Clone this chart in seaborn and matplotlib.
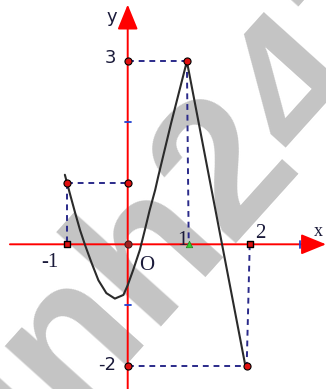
import matplotlib
matplotlib.use("Agg")
import matplotlib.pyplot as plt
import seaborn as sns
import pandas as pd

# Curve (x, y in graph units)
curve_x = [-1.03, -0.95, -0.86, -0.78, -0.70, -0.59, -0.48, -0.35, -0.21, -0.07,
           0.0, 0.09, 0.20, 0.28, 0.36, 0.45, 0.50, 0.71, 0.97, 1.93]
curve_y = [1.14, 0.84, 0.51, 0.23, -0.01, -0.31, -0.59, -0.80, -0.89, -0.83,
           -0.67, -0.42, -0.09, 0.23, 0.56, 0.89, 1.11, 1.98, 3.0, -2.0]

# Marked points
dot_x = [0, 0.97, -1, 0, 0, 1.95]
dot_y = [3, 3, 1, 1, -2, -2]
square_x = [-1, 2]
square_y = [0, 0]

# Dashed guide segments (x0, x1, y0, y1)
guide_x0 = [-1, -1, 0, 0.97, 0, 2]
guide_x1 = [0, -1, 0.97, 1, 1.95, 1.95]
guide_y0 = [1, 1, 3, 3, -2, 0]
guide_y1 = [1, 0, 3, 0, -2, -2]

sns.set_style("white")

fig = plt.figure(figsize=(3.26, 3.89), dpi=100)
ax = fig.add_axes([0, 0, 1, 1])
ax.set_xlim(-2.093, 3.25)
ax.set_ylim(-2.372, 4.005)
ax.axis("off")

# watermark
ax.text(0.68, 0.04, "vinh247", fontsize=140, fontweight="bold", family="Liberation Sans",
        color="#c4c4c4", rotation=48, ha="center", va="center", rotation_mode="anchor", zorder=0)

# axes with arrows
ax.annotate("", xy=(3.25, 0), xytext=(-1.93, 0),
            arrowprops=dict(arrowstyle="-|>,head_length=1.1,head_width=0.45", color="red",
                            lw=1.4, mutation_scale=14, shrinkA=0, shrinkB=0), zorder=2)
ax.annotate("", xy=(0, 3.93), xytext=(0, -2.4),
            arrowprops=dict(arrowstyle="-|>,head_length=1.1,head_width=0.45", color="red",
                            lw=1.4, mutation_scale=14, shrinkA=0, shrinkB=0), zorder=2)

# small blue ticks
ax.plot([-0.05, 0.05], [2, 2], color="#2040d0", lw=1.3, zorder=3)
ax.plot([-0.05, 0.05], [-1, -1], color="#2040d0", lw=1.3, zorder=3)
ax.plot([2.83, 2.83], [-0.06, 0.06], color="#2040d0", lw=1.3, zorder=3)

# dashed guides
for x0, x1, y0, y1 in zip(guide_x0, guide_x1, guide_y0, guide_y1):
    ax.plot([x0, x1], [y0, y1], color="#2a2a8a", lw=1.4, dashes=(3, 2.5), zorder=3)

# curve
df = pd.DataFrame({"x": curve_x, "y": curve_y})
sns.lineplot(data=df, x="x", y="y", sort=False, estimator=None, color="#2b2b2b",
             lw=1.5, ax=ax, zorder=4)

# points
sns.scatterplot(x=dot_x, y=dot_y, color="#e01010", edgecolor="black", s=26, linewidth=0.8,
                ax=ax, zorder=5)
sns.scatterplot(x=[0], y=[0], color="#a02020", edgecolor="#402020", s=26, linewidth=0.8,
                ax=ax, zorder=5)
sns.scatterplot(x=square_x, y=square_y, marker="s", color="#e01010", edgecolor="black",
                s=24, linewidth=1.0, ax=ax, zorder=5)
sns.scatterplot(x=[1], y=[0], marker="^", color="#30d030", edgecolor="#208020", s=22,
                linewidth=0.5, ax=ax, zorder=5)

# labels
sans = ["DejaVu Sans"]
serif = ["Liberation Serif"]
lc = "#1a1a3a"
ax.text(-0.26, 3.73, "y", fontsize=13, family=sans, color=lc, ha="center", va="center")
ax.text(-0.29, 3.05, "3", fontsize=13, family=sans, color=lc, ha="center", va="center")
ax.text(3.12, 0.21, "x", fontsize=13, family=serif, color=lc, ha="center", va="center")
ax.text(2.17, 0.18, "2", fontsize=15, family=serif, color=lc, ha="center", va="center")
ax.text(0.90, 0.06, "1", fontsize=15, family=serif, color=lc, ha="center", va="center")
ax.text(-1.27, -0.30, "-1", fontsize=15, family=serif, color=lc, ha="center", va="center")
ax.text(0.31, -0.34, "O", fontsize=15, family=serif, color=lc, ha="center", va="center")
ax.text(-0.33, -1.98, "-2", fontsize=13, family=sans, color=lc, ha="center", va="center")

fig.savefig("out.png", dpi=100)
